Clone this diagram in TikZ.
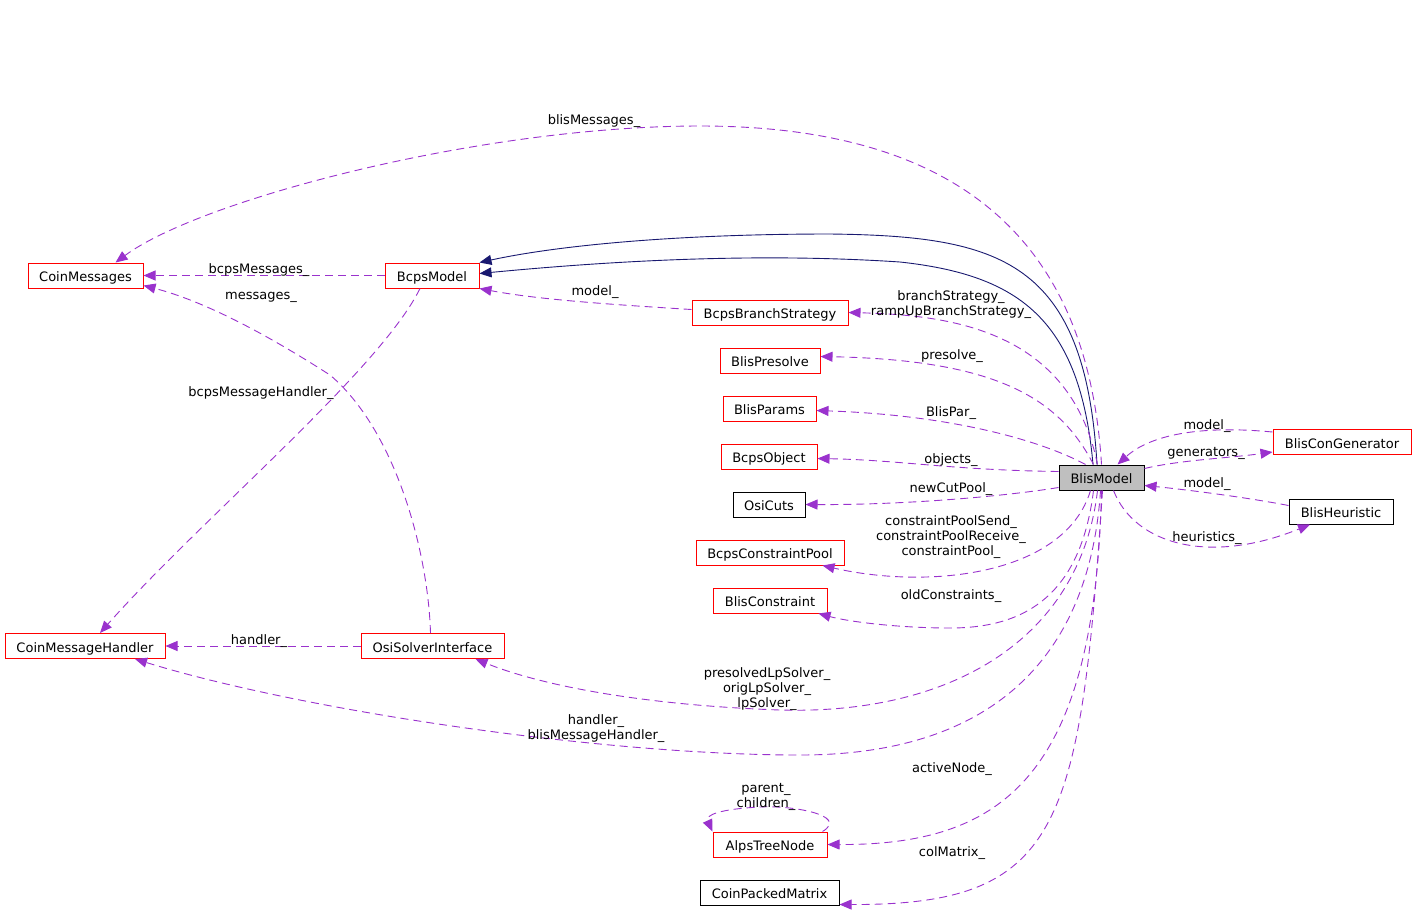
\documentclass[tikz,border=0pt]{standalone}
\usepackage{fontspec}
\setmainfont{DejaVu Sans}
\usepackage{tikz}
\usetikzlibrary{arrows.meta}
\usepackage{xcolor}

\definecolor{usecol}{HTML}{9A32CD}
\definecolor{inhcol}{HTML}{191970}
\definecolor{boxgray}{HTML}{BFBFBF}

\begin{document}
\begin{tikzpicture}[
    x=1pt, y=-1pt,
    font=\fontsize{13}{15}\selectfont,
    cls/.style={rectangle, draw=red, line width=1pt, minimum height=25pt, inner sep=0pt, text height=12pt, text depth=0pt},
    extcls/.style={rectangle, draw=black, line width=1pt, minimum height=25pt, inner sep=0pt, text height=12pt, text depth=0pt},
    usage/.style={-{Triangle[length=12pt,width=10pt]}, usecol, line width=0.9pt, dash pattern=on 8pt off 5pt},
    inherit/.style={-{Triangle[length=12pt,width=10pt]}, inhcol, line width=0.9pt},
    lbl/.style={align=center, inner sep=0pt, yshift=-2pt}
]
    \useasboundingbox (0,0) rectangle (1415,914);

    % Classes
    \node[extcls, fill=boxgray, minimum width=85pt] (bm) at (1101.5,477.5) {BlisModel};
    \node[cls, minimum width=115pt] (cm) at (85.5,275.5) {CoinMessages};
    \node[cls, minimum width=94pt] (bcm) at (432,275.5) {BcpsModel};
    \node[cls, minimum width=156pt] (bbs) at (770,312.5) {BcpsBranchStrategy};
    \node[cls, minimum width=100pt] (bpre) at (770,360.5) {BlisPresolve};
    \node[cls, minimum width=93pt] (bpar) at (769.5,408.5) {BlisParams};
    \node[cls, minimum width=96pt] (bobj) at (769,456.5) {BcpsObject};
    \node[extcls, minimum width=72pt] (ocuts) at (769,504.5) {OsiCuts};
    \node[cls, minimum width=148pt] (bcp) at (770,552.5) {BcpsConstraintPool};
    \node[cls, minimum width=114pt] (bcon) at (770,600.5) {BlisConstraint};
    \node[cls, minimum width=160pt] (cmh) at (85,646) {CoinMessageHandler};
    \node[cls, minimum width=143pt] (osi) at (432.5,646) {OsiSolverInterface};
    \node[cls, minimum width=114pt] (atn) at (770,844.5) {AlpsTreeNode};
    \node[extcls, minimum width=139pt] (cpm) at (769.5,892.5) {CoinPackedMatrix};
    \node[cls, minimum width=138pt] (bcg) at (1342,442) {BlisConGenerator};
    \node[extcls, minimum width=104pt] (bh) at (1341,511.5) {BlisHeuristic};

    % Inheritance
    \draw[inherit] ([xshift=-4.5pt]bm.north) .. controls (1085,260) and (1000,236) .. (830,234)
        .. controls (680,234) and (560,245) .. (bcm.north east);
    \draw[inherit] ([xshift=-8.5pt]bm.north) .. controls (1080,320) and (1020,275) .. (900,262)
        .. controls (750,252) and (600,262) .. ([yshift=2pt]bcm.east);

    % Usage relations of BlisModel
    \draw[usage] (bm.north) .. controls (1090,280) and (1000,126) .. (700,126)
        .. controls (480,126) and (200,200) .. ([xshift=30pt]cm.north);
    \node[lbl] (lmsg) at (594,119) {blisMessages\_};

    \draw[usage] ([xshift=-4pt]bm.north) .. controls (1070,330) and (950,315) .. (bbs.east);
    \node[lbl] (lbbs) at (951,303) {branchStrategy\_\\rampUpBranchStrategy\_};

    \draw[usage] ([xshift=-8pt]bm.north) .. controls (1060,400) and (1000,360) .. ([yshift=4pt]bpre.east);
    \node[lbl] (lpre) at (952,354) {presolve\_};

    \draw[usage] ([xshift=-16pt]bm.north) .. controls (1040,440) and (950,415) .. ([yshift=-2pt]bpar.east);
    \node[lbl] (lpar) at (951,411) {BlisPar\_};

    \draw[usage] ([yshift=6pt]bm.west) .. controls (950,470) and (900,460) .. ([yshift=-2pt]bobj.east);
    \node[lbl] (lobj) at (951,458) {objects\_};

    \draw[usage] ([yshift=-10pt]bm.west) .. controls (1000,497) and (900,505) .. (ocuts.east);
    \node[lbl] (lcut) at (951,487) {newCutPool\_};

    \draw[usage] ([xshift=-11pt]bm.south) .. controls (1065,575) and (930,590) .. ([xshift=-22pt]bcp.south east);
    \node[lbl] (lcp) at (951,535) {constraintPoolSend\_\\constraintPoolReceive\_\\constraintPool\_};

    \draw[usage] ([xshift=-8pt]bm.south) .. controls (1080,600) and (1020,628) .. (950,628)
        .. controls (900,628) and (850,622) .. ([xshift=-9pt]bcon.south east);
    \node[lbl] (lcon) at (951,594) {oldConstraints\_};

    \draw[usage] ([xshift=-4pt]bm.south) .. controls (1080,640) and (950,715) .. (780,710)
        .. controls (640,705) and (540,685) .. ([xshift=-29pt]osi.south east);
    \node[lbl] (llp) at (767,687) {presolvedLpSolver\_\\origLpSolver\_\\lpSolver\_};

    \draw[usage] ([xshift=-1pt]bm.south) .. controls (1090,650) and (1000,755) .. (800,755)
        .. controls (600,755) and (300,710) .. ([xshift=50pt]cmh.south);
    \node[lbl] (lhnd) at (596,727) {handler\_\\blisMessageHandler\_};

    \draw[usage] (bm.south) .. controls (1095,780) and (1000,845) .. (atn.east);
    \node[lbl] (lact) at (952,767) {activeNode\_};

    \draw[usage] ([xshift=1pt]bm.south) .. controls (1080,830) and (1060,905) .. ([yshift=-12pt]cpm.east);
    \node[lbl] (lcol) at (952,851) {colMatrix\_};

    % Generators and heuristics
    \draw[usage] ([yshift=10pt]bcg.west) .. controls (1200,425) and (1150,435) .. ([xshift=16pt]bm.north);
    \node[lbl] (lgm) at (1207,424) {model\_};
    \draw[usage] ([yshift=9pt]bm.east) .. controls (1180,460) and (1230,458) .. ([yshift=-10pt]bcg.west);
    \node[lbl] (lgen) at (1206,451) {generators\_};
    \draw[usage] ([yshift=6pt]bh.west) .. controls (1250,498) and (1190,490) .. ([yshift=-8pt]bm.east);
    \node[lbl] (lhm) at (1207,482) {model\_};
    \draw[usage] ([xshift=12pt]bm.south) .. controls (1135,545) and (1210,565) .. ([xshift=-31pt]bh.south);
    \node[lbl] (lheu) at (1207,536) {heuristics\_};

    % Left part
    \draw[usage] (bcm.west) -- (cm.east);
    \node[lbl] (lbmsg) at (259,268) {bcpsMessages\_};
    \draw[usage] ([yshift=3pt]bbs.west) .. controls (620,305) and (540,300) .. (bcm.south east);
    \node[lbl] (lbm) at (595,290) {model\_};
    \draw[usage] ([xshift=-2pt]osi.north) .. controls (428,550) and (395,430) .. (330,375)
        .. controls (260,330) and (200,300) .. ([yshift=-10pt]cm.east);
    \node[lbl] (lomsg) at (261,295) {messages\_};
    \draw[usage] ([xshift=-12pt]bcm.south) .. controls (380,370) and (200,520) .. ([xshift=15pt]cmh.north);
    \node[lbl] (lbmh) at (261,391) {bcpsMessageHandler\_};
    \draw[usage] (osi.west) -- (cmh.east);
    \node[lbl] (losh) at (259,639) {handler\_};

    % Tree node links
    \draw[usage] ([xshift=-5pt]atn.north east) .. controls (850,815) and (790,805) .. (760,807)
        .. controls (720,809) and (705,815) .. (atn.north west);
    \node[lbl] (ltree) at (766,795) {parent\_\\children\_};
\end{tikzpicture}
\end{document}
